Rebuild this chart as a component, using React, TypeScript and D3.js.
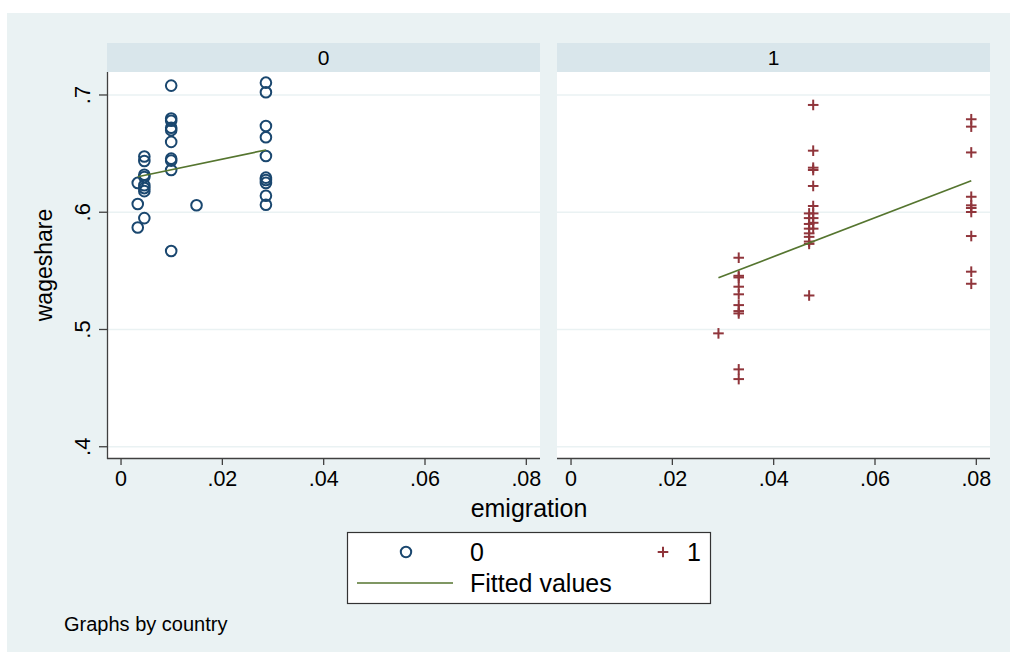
import React from 'react'
import * as d3 from 'd3'

const width = 1010
const height = 652
const font = '"Liberation Sans", Arial, Helvetica, sans-serif'

const xTicks = [0, 0.02, 0.04, 0.06, 0.08]
const xTickLabels = ['0', '.02', '.04', '.06', '.08']
const yTicks = [0.4, 0.5, 0.6, 0.7]
const yTickLabels = ['.4', '.5', '.6', '.7']
const panels = ['0', '1']

// country 0 (circles)
const emig0 = [
  0.0033, 0.0033, 0.0033,
  0.0046, 0.0046, 0.0046, 0.0046, 0.0046, 0.0046, 0.0046, 0.0046,
  0.0099, 0.0099, 0.0099, 0.0099, 0.0099, 0.0099, 0.0099, 0.0099, 0.0099, 0.0099,
  0.0149,
  0.0286, 0.0286, 0.0286, 0.0286, 0.0286, 0.0286, 0.0286, 0.0286, 0.0286, 0.0286,
]
const wage0 = [
  0.625, 0.607, 0.587,
  0.6475, 0.6437, 0.632, 0.630, 0.623, 0.6206, 0.618, 0.595,
  0.708, 0.680, 0.678, 0.672, 0.670, 0.660, 0.6457, 0.644, 0.636, 0.567,
  0.606,
  0.7105, 0.7023, 0.6735, 0.664, 0.648, 0.6295, 0.6275, 0.625, 0.614, 0.6064,
]

// country 1 (plus signs)
const emig1 = [
  0.0291,
  0.0331, 0.0331, 0.0331, 0.0331, 0.0331, 0.0331, 0.0331, 0.0331, 0.0331, 0.0331,
  0.047, 0.047, 0.047, 0.047, 0.047, 0.047, 0.047, 0.047, 0.047,
  0.0478, 0.0478, 0.0478, 0.0478, 0.0478, 0.0478, 0.0478, 0.0478, 0.0478, 0.0478,
  0.079, 0.079, 0.079, 0.079, 0.079, 0.079, 0.079, 0.079, 0.079, 0.079,
]
const wage1 = [
  0.4967,
  0.5612, 0.5458, 0.5444, 0.5365, 0.530, 0.5208, 0.5157, 0.5137, 0.466, 0.4577,
  0.599, 0.595, 0.590, 0.586, 0.582, 0.579, 0.575, 0.573, 0.529,
  0.6915, 0.6525, 0.638, 0.636, 0.6224, 0.6053, 0.599, 0.595, 0.591, 0.586,
  0.6793, 0.673, 0.651, 0.6132, 0.6059, 0.6036, 0.6002, 0.5797, 0.5493, 0.539,
]

// fitted values (end points)
const fitEmig0 = [0.0033, 0.0286]
const fitWage0 = [0.6303, 0.6531]
const fitEmig1 = [0.0291, 0.079]
const fitWage1 = [0.5441, 0.6269]

const navy = '#1a476f'
const maroon = '#90353b'
const green = '#55752f'
const outerBg = '#eaf2f3'
const stripBg = '#d9e6eb'
const axisCol = '#404040'

const plotTop = 72
const plotBottom = 458
const stripTop = 43
const panelRanges: [number, number][] = [[107, 540], [557, 990]]

const yScale = d3.scaleLinear().domain([0.3904, 0.7196]).range([plotBottom, plotTop])

const Plus = ({ x, y, s, color }: { x: number; y: number; s: number; color: string }) => (
  <g stroke={color} strokeWidth={2}>
    <line x1={x - s} x2={x + s} y1={y} y2={y} />
    <line x1={x} x2={x} y1={y - s} y2={y + s} />
  </g>
)

const App = () => {
  const xScales = panelRanges.map(r => d3.scaleLinear().domain([-0.00277, 0.0827]).range(r))
  const line = (xs: d3.ScaleLinear<number, number>) =>
    d3.line<[number, number]>().x(d => xs(d[0])).y(d => yScale(d[1]))

  const fit0 = line(xScales[0])(d3.zip(fitEmig0, fitWage0) as [number, number][])
  const fit1 = line(xScales[1])(d3.zip(fitEmig1, fitWage1) as [number, number][])

  return (
    <svg width={width} height={height} style={{ position: 'absolute', left: 0, top: 0 }} fontFamily={font}>
      <rect x={0} y={0} width={width} height={height} fill='#ffffff' />
      <rect x={7} y={13} width={width - 7} height={height - 13} fill={outerBg} />

      {panels.map((p, i) => {
        const [x0, x1] = panelRanges[i]
        const xs = xScales[i]
        return (
          <g key={p}>
            <rect x={x0} y={stripTop} width={x1 - x0} height={plotTop - stripTop} fill={stripBg} />
            <text x={(x0 + x1) / 2} y={64.5} textAnchor='middle' fontSize={21} fill='#000'>{p}</text>
            <rect x={x0} y={plotTop} width={x1 - x0} height={plotBottom - plotTop} fill='#ffffff' />
            {yTicks.map(t => (
              <line key={t} x1={x0} x2={x1} y1={yScale(t)} y2={yScale(t)} stroke={outerBg} strokeWidth={1.5} />
            ))}
            <line x1={x0} x2={x1} y1={plotBottom + 0.5} y2={plotBottom + 0.5} stroke={axisCol} strokeWidth={1.3} />
            {xTicks.map((t, j) => (
              <g key={t}>
                <line x1={xs(t)} x2={xs(t)} y1={plotBottom} y2={plotBottom + 7} stroke={axisCol} strokeWidth={1.3} />
                <text x={xs(t)} y={485.5} textAnchor='middle' fontSize={21.5} fill='#000'>{xTickLabels[j]}</text>
              </g>
            ))}
          </g>
        )
      })}

      {/* y axis on first panel */}
      <line x1={107.5} x2={107.5} y1={plotTop} y2={plotBottom + 1} stroke={axisCol} strokeWidth={1.3} />
      {yTicks.map((t, j) => (
        <g key={t}>
          <line x1={99} x2={107} y1={yScale(t)} y2={yScale(t)} stroke={axisCol} strokeWidth={1.3} />
          <text transform={`translate(90, ${yScale(t)}) rotate(-90)`} textAnchor='middle' fontSize={22} fill='#000'>
            {yTickLabels[j]}
          </text>
        </g>
      ))}
      <text transform={`translate(52, ${(plotTop + plotBottom) / 2}) rotate(-90)`} textAnchor='middle' fontSize={23} fill='#000'>
        wageshare
      </text>
      <text x={529} y={517} textAnchor='middle' fontSize={25} fill='#000'>emigration</text>

      {/* country 0 */}
      {emig0.map((e, i) => (
        <circle key={i} cx={xScales[0](e)} cy={yScale(wage0[i])} r={5.3} fill='none' stroke={navy} strokeWidth={2} />
      ))}
      <path d={fit0 ?? ''} fill='none' stroke={green} strokeWidth={1.7} />

      {/* country 1 */}
      {emig1.map((e, i) => (
        <Plus key={i} x={xScales[1](e)} y={yScale(wage1[i])} s={5.3} color={maroon} />
      ))}
      <path d={fit1 ?? ''} fill='none' stroke={green} strokeWidth={1.7} />

      {/* legend */}
      <rect x={347.5} y={532.5} width={363} height={71} fill='#ffffff' stroke='#333' strokeWidth={1.2} />
      <circle cx={406} cy={552} r={5.2} fill='none' stroke={navy} strokeWidth={2} />
      <text x={470} y={561} fontSize={25} fill='#000'>0</text>
      <Plus x={663} y={552} s={5.3} color={maroon} />
      <text x={687} y={561} fontSize={25} fill='#000'>1</text>
      <line x1={357} x2={453} y1={583} y2={583} stroke={green} strokeWidth={1.7} />
      <text x={470} y={592} fontSize={25} fill='#000'>Fitted values</text>

      <text x={64} y={631} fontSize={20} fill='#000'>Graphs by country</text>
    </svg>
  )
}

export default App
